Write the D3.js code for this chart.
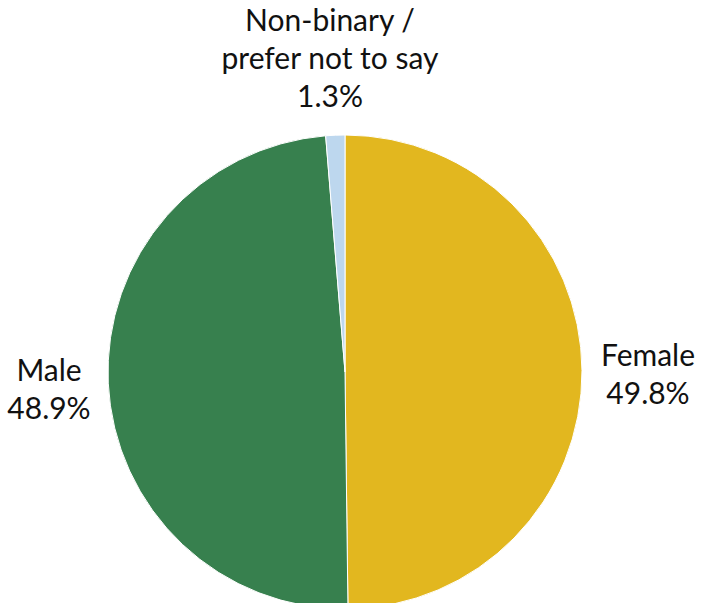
<!DOCTYPE html>
<html lang="en">
<head>
<meta charset="UTF-8">
<title>Gender</title>
<style>
  body { margin: 0; background: #fff; }
  svg { display: block; font-family: "Lato", "Open Sans", sans-serif; }
</style>
</head>
<body>
<script src="https://cdnjs.cloudflare.com/ajax/libs/d3/7.8.2/d3.min.js"></script>
<script>
// data
const categories = ["Female", "Male", "Non-binary / prefer not to say"];
const values = [49.8, 48.9, 1.3];
const colours = ["#E2B71F", "#37804E", "#BDD7EE"];
const labelLines = [
  ["Female", "49.8%"],
  ["Male", "48.9%"],
  ["Non-binary /", "prefer not to say", "1.3%"]
];

const w = 701, h = 603;
const cx = 345, cy = 372, r = 237;

const svg = d3.select("body").append("svg")
  .attr("width", w)
  .attr("height", h);

const pie = d3.pie().sort(null).value(d => d)(values);
const arc = d3.arc().innerRadius(0).outerRadius(r);

const g = svg.append("g").attr("transform", `translate(${cx},${cy})`);

g.selectAll("path")
  .data(pie)
  .enter()
  .append("path")
    .attr("d", arc)
    .attr("fill", (d, i) => colours[i])
    .attr("stroke", "#fff")
    .attr("stroke-width", 1);

// label positions (outside the pie)
const labelPos = [
  { x: 648, y: 366 },
  { x: 49, y: 381 },
  { x: 330, y: 31 }
];
const lineH = 38;

labelLines.forEach((lines, i) => {
  const t = svg.append("text")
    .attr("text-anchor", "middle")
    .attr("font-size", 30)
    .attr("fill", "#111");
  lines.forEach((s, j) => {
    t.append("tspan")
      .attr("x", labelPos[i].x)
      .attr("y", labelPos[i].y + j * lineH)
      .text(s);
  });
});
</script>
</body>
</html>
